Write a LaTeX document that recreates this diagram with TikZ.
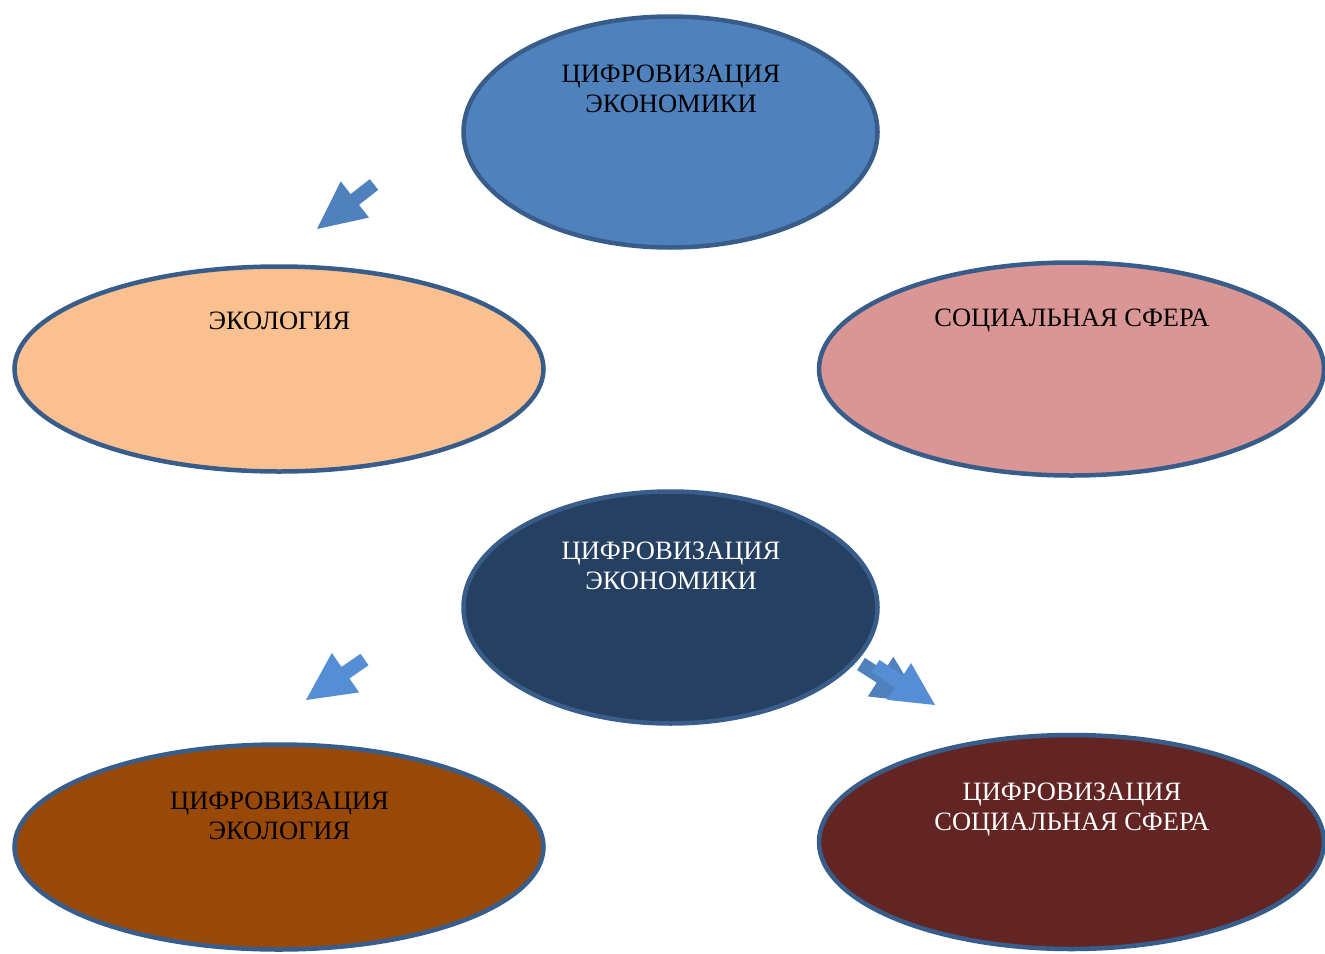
\documentclass[tikz,border=0pt]{standalone}
\usepackage{fontspec}
\setmainfont{Liberation Serif}
\usetikzlibrary{shapes.geometric,calc}
\definecolor{edgeblue}{HTML}{385D8A}
\definecolor{econfill}{HTML}{4F81BD}
\definecolor{ecofill}{HTML}{FAC090}
\definecolor{socfill}{HTML}{D99694}
\definecolor{darkfill}{HTML}{264061}
\definecolor{brownfill}{HTML}{984807}
\definecolor{wine}{HTML}{632523}
\definecolor{arrA}{HTML}{4F81BD}
\definecolor{arrB}{HTML}{558ED5}
\newcommand\blockarr[6]{%
  \coordinate (bB) at ($(#3)!#6!(#2)$);
  \fill[#1] ($(#2)!#4!90:(#3)$) -- ($(bB)!#4!90:(#3)$) -- ($(bB)!#5!90:(#3)$) -- (#3)
    -- ($(bB)!#5!-90:(#3)$) -- ($(bB)!#4!-90:(#3)$) -- ($(#2)!#4!-90:(#3)$) -- cycle;}
\begin{document}
\begin{tikzpicture}[x=1pt,y=-1pt,
  oval/.style={ellipse, draw=edgeblue, line width=4.5pt, inner sep=0pt},
  lbl/.style={font=\fontsize{26.5}{30}\selectfont, align=center, anchor=base, inner sep=0pt}]
\useasboundingbox (0,0) rectangle (1325,953);
\clip (0,0) rectangle (1325,953);
% ellipses
\node[oval, fill=econfill, minimum width=414pt, minimum height=231pt] (econ) at (670.5,132) {};
\node[oval, fill=ecofill, minimum width=529pt, minimum height=205pt] (eco) at (279,369) {};
\node[oval, fill=socfill, minimum width=505pt, minimum height=213pt] (soc) at (1071.5,369) {};
\node[oval, fill=darkfill, minimum width=414pt, minimum height=232pt] (deco) at (670.5,607.5) {};
\node[oval, fill=brownfill, minimum width=529pt, minimum height=205pt] (deco2) at (279,847) {};
\node[oval, fill=wine, minimum width=505pt, minimum height=214pt] (dsoc) at (1071.5,842) {};
% texts
\node[lbl] (econt) at (671,112) {ЦИФРОВИЗАЦИЯ\\ЭКОНОМИКИ};
\node[lbl] (ecot) at (279.5,329) {ЭКОЛОГИЯ};
\node[lbl] (soct) at (1072,326) {СОЦИАЛЬНАЯ СФЕРА};
\node[lbl, text=white] (decot) at (671,589) {ЦИФРОВИЗАЦИЯ\\ЭКОНОМИКИ};
\node[lbl] (deco2t) at (279.5,839) {ЦИФРОВИЗАЦИЯ\\ЭКОЛОГИЯ};
\node[lbl, text=white] (dsoct) at (1072,830) {ЦИФРОВИЗАЦИЯ\\СОЦИАЛЬНАЯ СФЕРА};
% arrows
\coordinate (a1t) at (374,184.5);
\coordinate (a1p) at (317,229);
\blockarr{arrA}{a1t}{a1p}{6.8pt}{23pt}{48pt}
\coordinate (a2t) at (364.5,659.5);
\coordinate (a2p) at (306,700);
\blockarr{arrB}{a2t}{a2p}{7pt}{24pt}{48pt}
\coordinate (a3t) at (861,664);
\coordinate (a3p) at (921,702.5);
\blockarr{arrA}{a3t}{a3p}{7.2pt}{23.6pt}{48pt}
\coordinate (a4t) at (875.5,666);
\coordinate (a4p) at (935,705);
\blockarr{arrB}{a4t}{a4p}{7.2pt}{22pt}{43pt}
\end{tikzpicture}
\end{document}
